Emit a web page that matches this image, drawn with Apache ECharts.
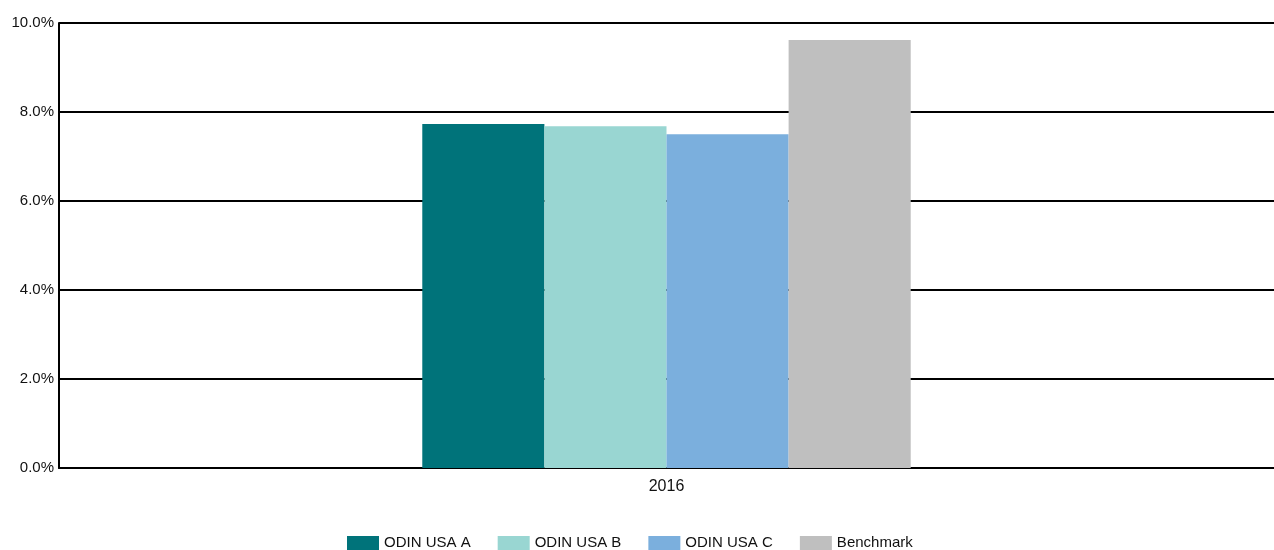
<!DOCTYPE html>
<html>
<head>
<meta charset="utf-8">
<script src="https://cdn.jsdelivr.net/npm/echarts@6/dist/echarts.min.js"></script>
<style>html,body{margin:0;padding:0;background:#fff}#c{width:1274px;height:550px}</style>
</head>
<body>
<div id="c"></div>
<script>
var categories = ['2016'];
var seriesNames = ['ODIN USA A', 'ODIN USA B', 'ODIN USA C', 'Benchmark'];
var valuesA = [7.73];
var valuesB = [7.68];
var valuesC = [7.50];
var valuesBench = [9.62];
var colors = ['#00737a', '#99d6d2', '#7bafdd', '#bfbfbf'];

var chart = echarts.init(document.getElementById('c'));
var allValues = [valuesA, valuesB, valuesC, valuesBench];
var series = seriesNames.map(function (n, i) {
  return {
    name: n, type: 'bar', data: allValues[i],
    barGap: '0%', barCategoryGap: '59.8%',
    itemStyle: { color: colors[i] }
  };
});
chart.setOption({
  animation: false,
  color: colors,
  textStyle: { fontFamily: 'Liberation Sans, Arial, sans-serif' },
  grid: { left: 59, right: 0, top: 23, bottom: 82, containLabel: false },
  legend: {
    top: 534, left: 347, padding: 0, itemWidth: 32, itemHeight: 14, itemGap: 27,
    icon: 'rect',
    textStyle: { fontSize: 15, lineHeight: 18, color: '#111', fontFamily: 'Liberation Sans, Arial, sans-serif' },
    data: seriesNames
  },
  xAxis: {
    type: 'category', data: categories,
    axisLine: { lineStyle: { color: '#000', width: 2 } },
    axisTick: { show: false },
    axisLabel: { fontSize: 16, color: '#111', margin: 11 }
  },
  yAxis: {
    type: 'value', min: 0, max: 10, interval: 2,
    axisLine: { show: true, lineStyle: { color: '#000', width: 2 } },
    axisTick: { show: false },
    splitLine: { lineStyle: { color: '#000', width: 2 } },
    axisLabel: { fontSize: 15, color: '#111', margin: 5, formatter: function (v) { return v.toFixed(1) + '%'; } }
  },
  series: series
});
</script>
</body>
</html>
